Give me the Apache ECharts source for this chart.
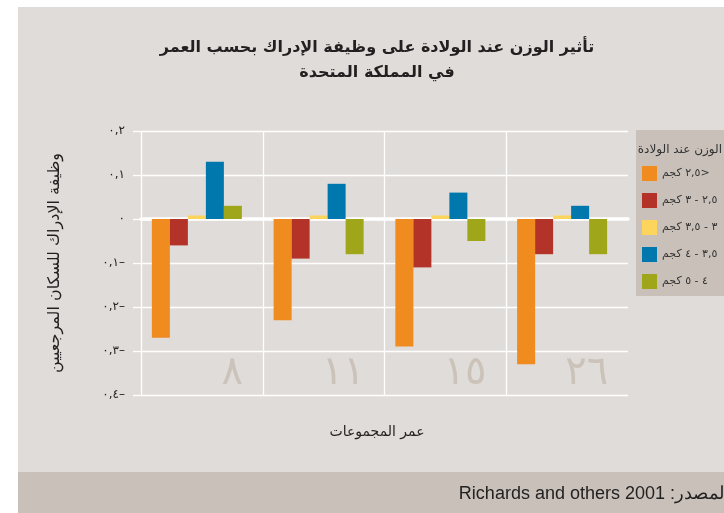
<!DOCTYPE html>
<html>
<head>
<meta charset="utf-8">
<script src="https://cdn.jsdelivr.net/npm/echarts@6/dist/echarts.min.js"></script>
<style>
  html, body { margin: 0; padding: 0; background: #fff; }
  #chart { width: 724px; height: 513px; }
</style>
</head>
<body>
<div id="chart" dir="rtl"></div>
<script>
const AGE_GROUPS = ["٨", "١١", "١٥", "٢٦"];
const WEIGHT_BANDS = ["<٢,٥ كجم", "٢,٥ - ٣ كجم", "٣ - ٣,٥ كجم", "٣,٥ - ٤ كجم", "٤ - ٥ كجم"];
const BAND_COLORS = ["#ef8b1f", "#b33328", "#fed55c", "#0077ad", "#9fa61a"];

// cognitive function score per age group, one array per birth weight band
const under25 = [-0.27, -0.23, -0.29, -0.33];
const from25to3 = [-0.06, -0.09, -0.11, -0.08];
const from3to35 = [0.008, 0.008, 0.008, 0.008];
const from35to4 = [0.13, 0.08, 0.06, 0.03];
const from4to5 = [0.03, -0.08, -0.05, -0.08];

const Y_MIN = -0.4;
const Y_MAX = 0.2;
const Y_STEP = 0.1;

const FONT = '"DejaVu Sans", sans-serif';

function toArabicDigits(text) {
  return String(text).replace(/\d/g, (d) => "٠١٢٣٤٥٦٧٨٩"[d]);
}

function formatTick(value) {
  const rounded = Math.round(value * 10) / 10;
  if (rounded === 0) return "٠";
  const body = toArabicDigits(Math.abs(rounded).toFixed(1).replace(".", ","));
  return (rounded < 0 ? "–" : "") + body;
}

const seriesValues = [under25, from25to3, from3to35, from35to4, from4to5];

const chart = echarts.init(document.getElementById("chart"));

chart.setOption({
  backgroundColor: "#e0dcd9",
  animation: false,
  title: {
    text: "تأثير الوزن عند الولادة على وظيفة الإدراك بحسب العمر\nفي المملكة المتحدة",
    left: 372,
    top: 30,
    textAlign: "center",
    textStyle: {
      fontFamily: FONT,
      fontSize: 16,
      fontWeight: "bold",
      color: "#231f20",
      lineHeight: 25
    }
  },
  legend: {
    data: WEIGHT_BANDS,
    orient: "vertical",
    left: 636,
    top: 130,
    padding: [36, 40, 7, 6],
    itemWidth: 15,
    itemHeight: 15,
    itemGap: 12,
    icon: "rect",
    selectedMode: false,
    backgroundColor: "#c9c1b9",
    textStyle: { fontFamily: FONT, fontSize: 11, color: "#333" }
  },
  graphic: [
    { type: "rect", shape: { x: 0, y: 0, width: 18, height: 513 }, style: { fill: "#fff" }, z: -10 },
    { type: "rect", shape: { x: 0, y: 0, width: 724, height: 7 }, style: { fill: "#fff" }, z: -10 },
    { type: "rect", shape: { x: 18, y: 472, width: 706, height: 41 }, style: { fill: "#c9c1b9" }, z: -10 },
    {
      type: "text",
      x: 729,
      y: 494,
      z: 10,
      style: {
        text: "المصدر: Richards and others 2001",
        textAlign: "right",
        textVerticalAlign: "middle",
        font: '18px "Liberation Sans", sans-serif',
        fill: "#222"
      }
    },
    {
      type: "text",
      x: 722,
      y: 150,
      z: 10,
      style: {
        text: "الوزن عند الولادة",
        textAlign: "right",
        textVerticalAlign: "middle",
        font: "12px " + FONT,
        fill: "#333"
      }
    }
  ],
  grid: [
    { left: 141, right: 96, top: 131, bottom: 118 },
    { left: 136, right: 101, top: 131, bottom: 118 }
  ],
  xAxis: [
    {
      gridIndex: 0,
      type: "category",
      data: AGE_GROUPS,
      axisLine: { onZero: true, lineStyle: { color: "#fff", width: 3.5 } },
      axisTick: { show: false },
      axisLabel: { show: false },
      splitLine: { show: true, showMaxLine: false, lineStyle: { color: "#fff", width: 1.3 } }
    },
    {
      gridIndex: 0,
      type: "category",
      data: AGE_GROUPS,
      position: "bottom",
      axisLine: { show: false, onZero: false },
      axisTick: { show: false },
      axisLabel: {
        inside: true,
        margin: 1,
        formatter: (v) => "{n|" + v + "}",
        rich: {
          n: { width: 82, align: "right", fontSize: 40, fontFamily: FONT, color: "#cbc3ba" }
        }
      },
      name: "عمر المجموعات",
      nameLocation: "middle",
      nameGap: 30,
      nameTextStyle: { fontFamily: FONT, fontSize: 14, color: "#231f20", padding: [0, 15, 0, 0] }
    },
    { gridIndex: 1, type: "category", data: AGE_GROUPS, show: false }
  ],
  yAxis: [
    {
      gridIndex: 0,
      type: "value",
      min: Y_MIN,
      max: Y_MAX,
      interval: Y_STEP,
      axisLine: { show: false },
      axisTick: { show: true, length: 8, lineStyle: { color: "#fff", width: 1.3 } },
      axisLabel: { margin: 16, formatter: formatTick, fontFamily: FONT, fontSize: 12, color: "#231f20" },
      splitLine: { show: true, lineStyle: { color: "#fff", width: 1.3 } },
      name: "وظيفة الإدراك للسكان المرجعيين",
      nameLocation: "middle",
      nameRotate: 90,
      nameGap: 78,
      nameTextStyle: { fontFamily: FONT, fontSize: 16, color: "#231f20" }
    },
    { gridIndex: 1, type: "value", min: Y_MIN, max: Y_MAX, interval: Y_STEP, show: false, splitLine: { show: false } }
  ],
  series: WEIGHT_BANDS.map((name, i) => ({
    name,
    type: "bar",
    xAxisIndex: 2,
    yAxisIndex: 1,
    data: seriesValues[i],
    barWidth: 18,
    barGap: "0%",
    itemStyle: { color: BAND_COLORS[i] }
  }))
});
</script>
</body>
</html>
